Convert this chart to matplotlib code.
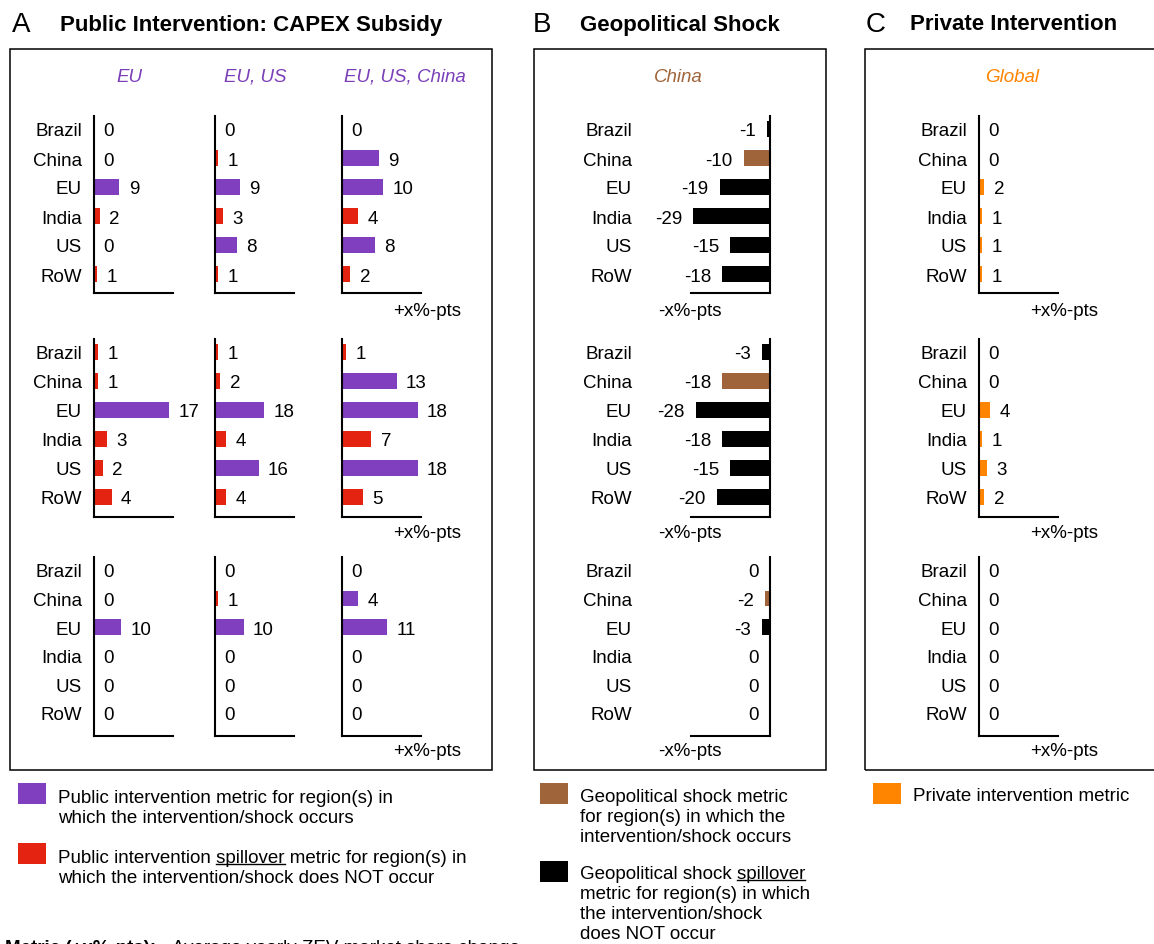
import matplotlib
matplotlib.use("Agg")
import matplotlib.pyplot as plt
from matplotlib.patches import Rectangle
from matplotlib.lines import Line2D

plt.rcParams["font.family"] = ["Liberation Sans", "DejaVu Sans"]

# ---------------------------------------------------------------- data
regions = ["Brazil", "China", "EU", "India", "US", "RoW"]

# A: CAPEX subsidy, one list per row of small multiples
capex_eu = [[0, 0, 9, 2, 0, 1],
            [1, 1, 17, 3, 2, 4],
            [0, 0, 10, 0, 0, 0]]
capex_eu_us = [[0, 1, 9, 3, 8, 1],
               [1, 2, 18, 4, 16, 4],
               [0, 1, 10, 0, 0, 0]]
capex_eu_us_cn = [[0, 9, 10, 4, 8, 2],
                  [1, 13, 18, 7, 18, 5],
                  [0, 4, 11, 0, 0, 0]]
capex_titles = ["EU", "EU, US", "EU, US, China"]
capex_targets = [["EU"], ["EU", "US"], ["EU", "US", "China"]]

# B: geopolitical shock in China
shock_china = [[-1, -10, -19, -29, -15, -18],
               [-3, -18, -28, -18, -15, -20],
               [0, -2, -3, 0, 0, 0]]
shock_targets = ["China"]

# C: private intervention, global
private_global = [[0, 0, 2, 1, 1, 1],
                  [0, 0, 4, 1, 3, 2],
                  [0, 0, 0, 0, 0, 0]]

# ---------------------------------------------------------------- style
PURPLE = "#7F3FBF"
RED = "#E42410"
BROWN = "#A0643B"
BLACK = "#000000"
ORANGE = "#FF8400"
FS = 13.5

W, H = 1154, 945
fig = plt.figure(figsize=(W / 100, H / 100), dpi=100)
renderer = fig.canvas.get_renderer()


def fx(x):
    return x / W


def fy(y):
    return 1 - y / H


# row geometry (pixels)
ROW_TOP = [117, 340, 558]
ROW_BOT = [294, 518, 737]
ROW_FIRST = [130, 353, 571]
ROW_PITCH = [29, 29, 28.6]
AXIS_LEN = 79

# pixels per percentage point for each small multiple
SCALE_A = [[2.8, 2.75, 4.1],
           [4.4, 2.72, 4.2],
           [2.7, 2.85, 4.1]]
SCALE_B = 2.65
SCALE_C = 2.7


def small_axes(x_axis, row, ppu, negative=False):
    x0 = x_axis - AXIS_LEN if negative else x_axis
    ax = fig.add_axes([fx(x0), fy(ROW_BOT[row]), AXIS_LEN / W,
                       (ROW_BOT[row] - ROW_TOP[row]) / H])
    p = ROW_PITCH[row]
    top = -(ROW_FIRST[row] - ROW_TOP[row]) / p
    bot = 5 + (ROW_BOT[row] - ROW_FIRST[row] - 5 * p) / p
    ax.set_ylim(bot, top)
    span = AXIS_LEN / ppu
    ax.set_xlim((-span, 0) if negative else (0, span))
    ax.patch.set_visible(False)
    for s in ["top", "left", "right", "bottom"]:
        ax.spines[s].set_visible(False)
    vert = "right" if negative else "left"
    for s in [vert, "bottom"]:
        ax.spines[s].set_visible(True)
        ax.spines[s].set_linewidth(1.5)
        ax.spines[s].set_color("black")
    ax.set_xticks([])
    ax.set_yticks([])
    return ax


def draw_bars(ax, values, colors, negative=False):
    ypos = list(range(len(values)))
    ax.barh(ypos, values, height=0.55, color=colors, linewidth=0)
    for i, v in enumerate(values):
        ax.annotate(str(v), xy=(v, i), xytext=(-8 if negative else 6.8, 0),
                    textcoords="offset points",
                    ha="right" if negative else "left", va="center_baseline",
                    fontsize=FS, annotation_clip=False)


def region_labels(ax, pad_px):
    ax.set_yticks(range(len(regions)))
    ax.set_yticklabels(regions, fontsize=FS)
    for t in ax.get_yticklabels():
        t.set_verticalalignment("center_baseline")
    ax.tick_params(axis="y", length=0, pad=pad_px * 0.72)


# ---------------------------------------------------------------- panel A
a_axis_x = [94, 215, 342]
a_series = [capex_eu, capex_eu_us, capex_eu_us_cn]
for c in range(3):
    for r in range(3):
        ax = small_axes(a_axis_x[c], r, SCALE_A[r][c])
        cols = [PURPLE if reg in capex_targets[c] else RED for reg in regions]
        draw_bars(ax, a_series[c][r], cols)
        if c == 0:
            region_labels(ax, 12)

a_title_x = [129, 255, 405]
for c in range(3):
    fig.text(fx(a_title_x[c]), fy(77), capex_titles[c], color="#7B3FB8",
             style="italic", fontsize=FS, ha="center", va="center")

# ---------------------------------------------------------------- panel B
for r in range(3):
    ax = small_axes(770, r, SCALE_B, negative=True)
    cols = [BROWN if reg in shock_targets else BLACK for reg in regions]
    draw_bars(ax, shock_china[r], cols, negative=True)
    region_labels(ax, 770 - 632 - AXIS_LEN)
fig.text(fx(678), fy(77), "China", color=BROWN, style="italic",
         fontsize=FS, ha="center", va="center")

# ---------------------------------------------------------------- panel C
for r in range(3):
    ax = small_axes(979, r, SCALE_C)
    draw_bars(ax, private_global[r], [ORANGE] * len(regions))
    region_labels(ax, 12)
fig.text(fx(1012), fy(77), "Global", color=ORANGE, style="italic",
         fontsize=FS, ha="center", va="center")

# axis unit labels
for yy in [312, 534, 752]:
    fig.text(fx(427), fy(yy), "+x%-pts", fontsize=FS, ha="center", va="center")
    fig.text(fx(690), fy(yy), "-x%-pts", fontsize=FS, ha="center", va="center")
    fig.text(fx(1064), fy(yy), "+x%-pts", fontsize=FS, ha="center", va="center")

# ---------------------------------------------------------------- frames and headings
for x0, x1 in [(10, 492), (534, 826), (865, 1170)]:
    fig.add_artist(Rectangle((fx(x0), fy(771)), (x1 - x0) / W, (771 - 50) / H,
                             transform=fig.transFigure, fill=False,
                             lw=1.1, ec="black"))

for letter, lx, title, tx in [("A", 12, "Public Intervention: CAPEX Subsidy", 60),
                              ("B", 533, "Geopolitical Shock", 580),
                              ("C", 866, "Private Intervention", 910)]:
    fig.text(fx(lx), fy(25), letter, fontsize=20, ha="left", va="center")
    fig.text(fx(tx), fy(25), title, fontsize=16, fontweight="bold",
             ha="left", va="center")


# ---------------------------------------------------------------- legends
def text_width(s):
    t = fig.text(0, 0, s, fontsize=FS)
    w = t.get_window_extent(renderer).width
    t.remove()
    return w


def legend_entry(x_sq, y_sq, color, x_txt, lines, first_baseline,
                 pitch=20, underline=None):
    fig.add_artist(Rectangle((fx(x_sq), fy(y_sq + 21)), 28 / W, 21 / H,
                             transform=fig.transFigure, color=color, lw=0))
    for k, line in enumerate(lines):
        yb = first_baseline + k * pitch
        fig.text(fx(x_txt), fy(yb), line, fontsize=FS, ha="left",
                 va="baseline")
        if underline and k == 0:
            prefix = line.split(underline)[0]
            x_start = x_txt + text_width(prefix + "s") - text_width("s")
            x_end = x_start + text_width(underline)
            fig.add_artist(Line2D([fx(x_start), fx(x_end)],
                                  [fy(yb + 2.2), fy(yb + 2.2)],
                                  transform=fig.transFigure,
                                  color="black", lw=1.0))


legend_entry(18, 784, PURPLE, 58,
             ["Public intervention metric for region(s) in",
              "which the intervention/shock occurs"], 803)
legend_entry(18, 844, RED, 58,
             ["Public intervention spillover metric for region(s) in",
              "which the intervention/shock does NOT occur"], 863,
             underline="spillover")
legend_entry(540, 784, BROWN, 580,
             ["Geopolitical shock metric",
              "for region(s) in which the",
              "intervention/shock occurs"], 802)
legend_entry(540, 862, BLACK, 580,
             ["Geopolitical shock spillover",
              "metric for region(s) in which",
              "the intervention/shock",
              "does NOT occur"], 879, underline="spillover")
legend_entry(873, 784, ORANGE, 913, ["Private intervention metric"], 801)

# metric footnote running off the lower edge
fig.text(fx(5), fy(953), "Metric (+x%-pts):", fontsize=FS, fontweight="bold",
         ha="left", va="baseline")
fig.text(fx(172), fy(953), "Average yearly ZEV market share change",
         fontsize=FS, ha="left", va="baseline")

fig.savefig("out.png", dpi=100)
